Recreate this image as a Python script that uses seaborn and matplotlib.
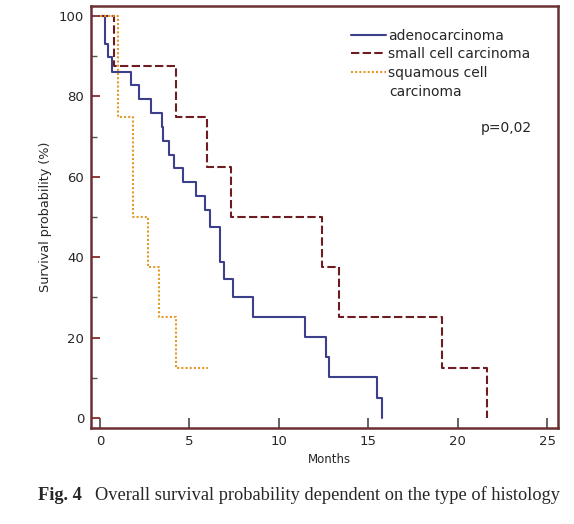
import numpy as np
import pandas as pd
import seaborn as sns
import matplotlib.pyplot as plt

sns.set_style("white")
plt.rcParams["font.family"] = ["DejaVu Sans"]

# Kaplan-Meier steps (months, survival %)
adeno_months = [0, 0.28, 0.43, 0.65, 1.73, 2.18, 2.83, 3.45, 3.54, 3.87, 4.15, 4.62,
                5.36, 5.88, 6.16, 6.72, 6.93, 7.42, 8.55, 11.49, 12.66, 12.81, 15.46, 15.79]
adeno_surv = [100, 93.1, 89.7, 86.2, 82.8, 79.3, 75.9, 72.4, 69.0, 65.5, 62.1, 58.6,
              55.2, 51.7, 47.4, 38.8, 34.5, 30.2, 25.2, 20.2, 15.1, 10.1, 5.0, 0]

small_months = [0, 0.8, 4.25, 5.96, 7.3, 12.44, 13.37, 19.14, 21.66]
small_surv = [100, 87.5, 75, 62.5, 50, 37.5, 25, 12.5, 0]

squam_months = [0, 1.0, 1.86, 2.7, 3.31, 4.28, 6.05]
squam_surv = [100, 75, 50, 37.5, 25, 12.5, 12.5]

groups = ["adenocarcinoma", "small cell carcinoma", "squamous cell carcinoma"]
colors = ["#3b3f8c", "#6e1c22", "#e39a2d"]

df = pd.concat([
    pd.DataFrame({"months": adeno_months, "surv": adeno_surv, "histology": groups[0]}),
    pd.DataFrame({"months": small_months, "surv": small_surv, "histology": groups[1]}),
    pd.DataFrame({"months": squam_months, "surv": squam_surv, "histology": groups[2]}),
])

fig = plt.figure(figsize=(5.74, 5.24), dpi=100)
ax = fig.add_axes([0.1585, 0.1832, 0.8135, 0.8053])

sns.lineplot(
    data=df, x="months", y="surv", hue="histology", style="histology",
    palette=dict(zip(groups, colors)),
    dashes={groups[0]: "", groups[1]: (4, 1.6), groups[2]: (1, 1)},
    drawstyle="steps-post", estimator=None, sort=False, linewidth=1.5, ax=ax,
)

ax.set_xlim(-0.5, 25.6)
ax.set_ylim(-2.5, 102.5)
ax.set_xticks([0, 5, 10, 15, 20, 25])
ax.set_yticks([0, 20, 40, 60, 80, 100])
ax.set_yticks([10, 30, 50, 70, 90], minor=True)

frame = "#6b2f33"
for s in ax.spines.values():
    s.set_color(frame)
    s.set_linewidth(1.8)
ax.tick_params(axis="y", which="major", direction="in", length=6.5, width=1.3,
               color="#8a2a2e", labelsize=9.5, pad=5, left=True)
ax.tick_params(axis="y", which="minor", direction="in", length=4.5, width=1.0,
               color="#555555", left=True)
ax.tick_params(axis="x", direction="in", length=7, width=1.3, color="#555555",
               labelsize=9.5, pad=5, bottom=True)

ax.set_xlabel("")
ax.set_ylabel("Survival probability (%)", fontsize=9.2, labelpad=5)
ax.text(12.85, -10.3, "Months", fontsize=8.5, ha="center", va="center",
        clip_on=False)

# legend: first line of the last label next to its handle, second line below
handles, labels = ax.get_legend_handles_labels()
labels[2] = "squamous cell"
ax.legend(handles, labels, loc="upper left", bbox_to_anchor=(0.557, 0.946),
          frameon=False, fontsize=10, handlelength=2.5, handletextpad=0.15,
          labelspacing=0.32, borderpad=0, borderaxespad=0)
ax.text(0.638, 0.797, "carcinoma", fontsize=10, ha="left", va="center",
        transform=ax.transAxes)

ax.text(0.889, 0.71, "p=0,02", fontsize=10, ha="center", va="center",
        transform=ax.transAxes)

fig.text(0.066, 0.055, "Fig. 4", fontsize=13.2, fontweight="bold",
         family="Liberation Serif", ha="left", va="center")
fig.text(0.166, 0.055, "Overall survival probability dependent on the type of histology",
         fontsize=13.2, family="Liberation Serif", ha="left", va="center")

fig.savefig("out.png", dpi=100)
